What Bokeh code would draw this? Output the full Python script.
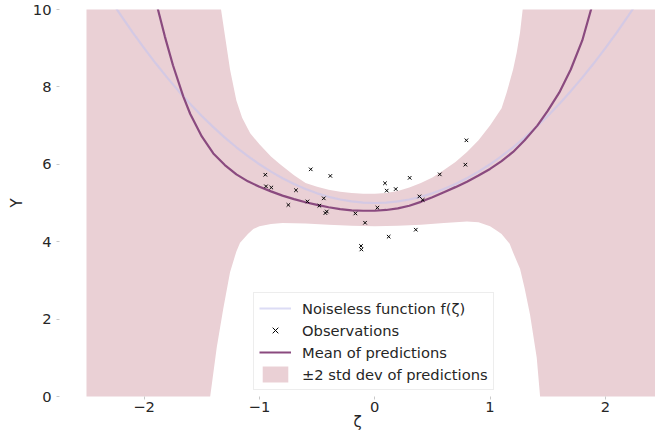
from bokeh.plotting import figure
from bokeh.models import Range1d, Legend, LegendItem, FixedTicker
from bokeh.embed import file_html
from bokeh.resources import INLINE

# ---- data ----
fx = [-2.5, -2.4, -2.3, -2.2, -2.1, -2.0, -1.9, -1.8, -1.7, -1.6, -1.5, -1.4, -1.3, -1.2, -1.1,
      -1.0, -0.9, -0.8, -0.7, -0.6, -0.5, -0.4, -0.3, -0.2, -0.1, 0.0, 0.1, 0.2, 0.3, 0.4,
      0.5, 0.6, 0.7, 0.8, 0.9, 1.0, 1.1, 1.2, 1.3, 1.4, 1.5, 1.6, 1.7, 1.8, 1.9, 2.0, 2.1,
      2.2, 2.3, 2.4, 2.5]
fy = [11.25, 10.76, 10.29, 9.84, 9.41, 9.00, 8.61, 8.24, 7.89, 7.56, 7.25, 6.96, 6.69, 6.44, 6.21,
      6.00, 5.81, 5.64, 5.49, 5.36, 5.25, 5.16, 5.09, 5.04, 5.01, 5.00, 5.01, 5.04, 5.09, 5.16,
      5.25, 5.36, 5.49, 5.64, 5.81, 6.00, 6.21, 6.44, 6.69, 6.96, 7.25, 7.56, 7.89, 8.24, 8.61,
      9.00, 9.41, 9.84, 10.29, 10.76, 11.25]

obs_x = [-0.949, -0.943, -0.897, -0.555, -0.385, -0.683, -0.749, -0.584, -0.480, -0.442,
         -0.428, -0.416, -0.168, -0.084, -0.119, -0.116, 0.023, 0.089, 0.104, 0.182,
         0.121, 0.303, 0.356, 0.387, 0.416, 0.564, 0.786, 0.795]
obs_y = [5.73, 5.43, 5.40, 5.87, 5.70, 5.33, 4.95, 5.04, 4.93, 5.12,
         4.74, 4.78, 4.73, 4.49, 3.89, 3.80, 4.88, 5.51, 5.32, 5.36,
         4.13, 5.65, 4.31, 5.17, 5.08, 5.74, 5.99, 6.62]

mean_x = [-2.5, -2.2, -2.0, -1.88, -1.82, -1.75, -1.66, -1.6, -1.5, -1.4, -1.3, -1.2, -1.1,
          -1.0, -0.9, -0.8, -0.7, -0.6, -0.5, -0.4, -0.3, -0.2, -0.1, 0.0, 0.1, 0.2, 0.3,
          0.4, 0.5, 0.6, 0.7, 0.8, 0.9, 1.0, 1.1, 1.2, 1.3, 1.41, 1.5, 1.6, 1.7, 1.8, 1.876,
          2.0, 2.2, 2.5]
mean_y = [22.0, 14.3, 11.4, 10.0, 9.30, 8.56, 7.75, 7.30, 6.72, 6.28, 5.98, 5.74, 5.56,
          5.42, 5.30, 5.19, 5.10, 5.02, 4.95, 4.89, 4.84, 4.81, 4.80, 4.80, 4.82, 4.86, 4.93,
          5.03, 5.15, 5.28, 5.41, 5.55, 5.71, 5.88, 6.08, 6.32, 6.62, 7.0, 7.38, 7.85, 8.45,
          9.2, 10.0, 11.6, 14.6, 22.0]

upper_x = [-2.5, -1.6, -1.45, -1.38, -1.333, -1.298, -1.255, -1.2, -1.15, -1.08, -1.0, -0.9,
           -0.821, -0.7, -0.6, -0.5, -0.4, -0.3, -0.2, -0.1, 0.0, 0.1, 0.2, 0.3, 0.4, 0.5,
           0.6, 0.7, 0.8, 0.9, 1.0, 1.1, 1.145, 1.2, 1.231, 1.26, 1.283, 1.33, 1.45, 2.5]
upper_y = [45.0, 16.5, 12.5, 11.0, 10.0, 9.30, 8.45, 7.65, 7.2, 6.80, 6.52, 6.2,
           6.0, 5.72, 5.52, 5.42, 5.34, 5.29, 5.26, 5.24, 5.24, 5.26, 5.31, 5.40, 5.52, 5.66,
           5.85, 6.06, 6.32, 6.62, 7.0, 7.45, 7.86, 8.45, 8.88, 9.4, 10.0, 11.2, 15.0, 50.0]

lower_x = [-2.5, -1.6, -1.5, -1.427, -1.37, -1.313, -1.255, -1.2, -1.168, -1.1, -1.053, -1.0,
           -0.9, -0.8, -0.6, -0.4, -0.2, 0.0, 0.2, 0.4, 0.6, 0.8, 0.9, 0.95, 1.0, 1.06,
           1.1, 1.17, 1.2, 1.26, 1.3, 1.347, 1.405, 1.434, 1.5, 1.6, 2.5]
lower_y = [-40.0, -4.5, -1.7, 0.0, 1.27, 2.28, 3.21, 3.75, 3.97, 4.2, 4.33, 4.40,
           4.46, 4.48, 4.47, 4.44, 4.41, 4.40, 4.41, 4.44, 4.48, 4.52, 4.50, 4.45, 4.40, 4.28,
           4.2, 3.95, 3.72, 3.3, 2.8, 2.11, 1.0, 0.0, -2.0, -5.0, -45.0]

x_ticks = [-2, -1, 0, 1, 2]
x_tick_labels = ["\u22122", "\u22121", "0", "1", "2"]
y_ticks = [0, 2, 4, 6, 8, 10]
y_tick_labels = ["0", "2", "4", "6", "8", "10"]

labels = ["Noiseless function f(\u03b6)", "Observations", "Mean of predictions",
          "\u00b12 std dev of predictions"]

# ---- styles ----
BAND = "#ead0d5"
MEAN = "#8a4a7f"
NOISELESS = "#c4c4ee"
FONT = "DejaVu Sans"

p = figure(width=655, height=434, output_backend="svg", toolbar_location=None,
           x_range=Range1d(-2.734, 2.435), y_range=Range1d(0, 10),
           min_border_left=59, min_border_right=0, min_border_top=9, min_border_bottom=38)
p.outline_line_color = None
p.grid.visible = False
p.background_fill_color = "white"

band_xs = upper_x + lower_x[::-1]
band_ys = upper_y + lower_y[::-1]
r_band = p.patch(band_xs, band_ys, fill_color=BAND, line_color=None)
r_f = p.line(fx, fy, line_color=NOISELESS, line_alpha=0.6, line_width=2.2)
r_mean = p.line(mean_x, mean_y, line_color=MEAN, line_width=2.2)
r_obs = p.scatter(obs_x, obs_y, marker="x", size=5, line_color="black", line_width=1)

for ax in (p.xaxis[0], p.yaxis[0]):
    ax.axis_line_color = None
    ax.minor_tick_line_color = None
    ax.major_tick_line_color = "#c8c8c8"
    ax.major_tick_in = 0
    ax.major_tick_out = 3
    ax.major_label_text_font = FONT
    ax.major_label_text_font_size = "14.7px"
    ax.major_label_text_color = "#262626"
    ax.axis_label_text_font = FONT
    ax.axis_label_text_font_size = "15px"
    ax.axis_label_text_font_style = "normal"
    ax.axis_label_text_color = "#262626"

p.xaxis.ticker = FixedTicker(ticks=x_ticks)
p.yaxis.ticker = FixedTicker(ticks=y_ticks)
p.xaxis.major_label_overrides = dict(zip(x_ticks, x_tick_labels))
p.yaxis.major_label_overrides = dict(zip(y_ticks, y_tick_labels))
p.xaxis.major_label_standoff = 2
p.yaxis.major_label_standoff = 5
p.xaxis.axis_label = "\u03b6"
p.yaxis.axis_label = "Y"
p.xaxis.axis_label_standoff = -2
p.yaxis.axis_label_standoff = 4

legend = Legend(items=[
    LegendItem(label=labels[0], renderers=[r_f]),
    LegendItem(label=labels[1], renderers=[r_obs]),
    LegendItem(label=labels[2], renderers=[r_mean]),
    LegendItem(label=labels[3], renderers=[r_band]),
], location=(194, 6), margin=0, padding=5, spacing=2,
    glyph_width=32, glyph_height=20, label_height=20, label_standoff=11,
    label_text_font=FONT, label_text_font_size="14.7px", label_text_color="#262626",
    border_line_color="#dcdcdc", border_line_width=1, background_fill_alpha=0.8)
p.add_layout(legend)

open("out.html", "w").write(file_html(p, INLINE))
